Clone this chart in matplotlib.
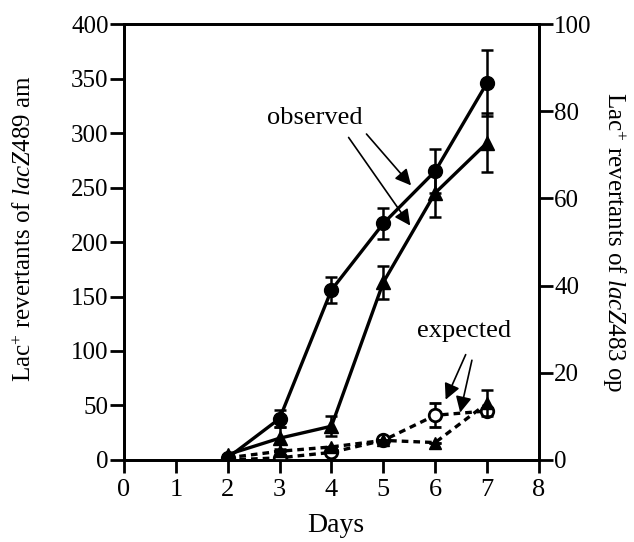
import matplotlib.pyplot as plt

plt.rcParams['font.family'] = 'Liberation Serif'
plt.rcParams['mathtext.fontset'] = 'custom'
plt.rcParams['mathtext.rm'] = 'Liberation Serif'
plt.rcParams['mathtext.it'] = 'Liberation Serif:italic'

days = [2, 3, 4, 5, 6, 7]

# lacZ489 am (left axis)
obs_489 = [2, 38, 156, 217, 265, 346]
obs_489_err = [0, 8, 12, 14, 20, 30]
exp_489 = [0, 2, 7, 18, 41, 45]
exp_489_err = [0, 0, 0, 0, 11, 0]

# lacZ483 op (right axis)
obs_483 = [1.25, 5, 7.75, 40.75, 61.25, 72.75]
obs_483_err = [0, 2.5, 2.25, 3.75, 5.5, 6.75]
exp_483 = [0.5, 2, 3, 4.5, 4, 13]
exp_483_err = [0, 0, 0, 0, 0, 3]

fig = plt.figure(figsize=(6.34, 5.42), dpi=100)
ax = fig.add_axes([0.1956, 0.1513, 0.6544, 0.8044])
ax2 = ax.twinx()

lw = 2.4
ax.errorbar(days, obs_489, yerr=obs_489_err, color='black', lw=lw, marker='o',
            ms=10, capsize=4, elinewidth=1.8, capthick=1.8, zorder=3)
ax.errorbar(days, exp_489, yerr=exp_489_err, color='black', lw=lw, ls=(0, (2, 1.5)),
            marker='o', ms=9, mfc='white', mew=2, capsize=4, elinewidth=1.8,
            capthick=1.8, zorder=3)
ax2.errorbar(days, obs_483, yerr=obs_483_err, color='black', lw=lw, marker='^',
             ms=10, capsize=4, elinewidth=1.8, capthick=1.8, zorder=3)
ax2.errorbar(days, exp_483, yerr=exp_483_err, color='black', lw=lw, ls=(0, (2, 1.5)),
             marker='^', ms=9, capsize=4, elinewidth=1.8, capthick=1.8, zorder=3)

ax.set_xlim(0, 8)
ax.set_ylim(0, 400)
ax2.set_ylim(0, 100)
ax.set_xticks(range(0, 9))
ax.set_yticks(range(0, 401, 50))
ax2.set_yticks(range(0, 101, 20))

for a in (ax, ax2):
    for s in a.spines.values():
        s.set_linewidth(2)
    a.tick_params(labelsize=18, width=2, length=10, direction='out', pad=1)
ax.tick_params(axis='x', length=9, pad=5, labelsize=19)

ax.set_xlabel('Days', fontsize=20)
ax.xaxis.label.set_va('center')
ax.xaxis.set_label_coords(0.51, -0.15)

ax.set_ylabel(r'Lac$^{+}$ revertants of $\mathit{lacZ489}$ am', fontsize=18)
ax.yaxis.label.set(va='center', ha='center', rotation_mode='anchor')
ax.yaxis.set_label_coords(-0.24, 0.53)

ax2.set_ylabel(r'Lac$^{+}$ revertants of $\mathit{lacZ483}$ op', fontsize=18)
ax2.yaxis.label.set(rotation=270, va='center', ha='center', rotation_mode='anchor')
ax2.yaxis.set_label_coords(1.18, 0.5)

# annotations
arrow = dict(arrowstyle='-|>', color='black', lw=1.2, mutation_scale=24)
ax.text(3.68, 314, 'observed', fontsize=19, ha='center', va='center')
ax.annotate('', xy=(5.57, 250), xytext=(4.64, 301), arrowprops=arrow)
ax.annotate('', xy=(5.55, 213), xytext=(4.30, 298), arrowprops=arrow)

ax.text(6.55, 118, 'expected', fontsize=19, ha='center', va='center')
ax.annotate('', xy=(6.18, 53), xytext=(6.61, 99), arrowprops=arrow)
ax.annotate('', xy=(6.47, 41), xytext=(6.72, 94), arrowprops=arrow)

fig.savefig('out.png', dpi=100)
